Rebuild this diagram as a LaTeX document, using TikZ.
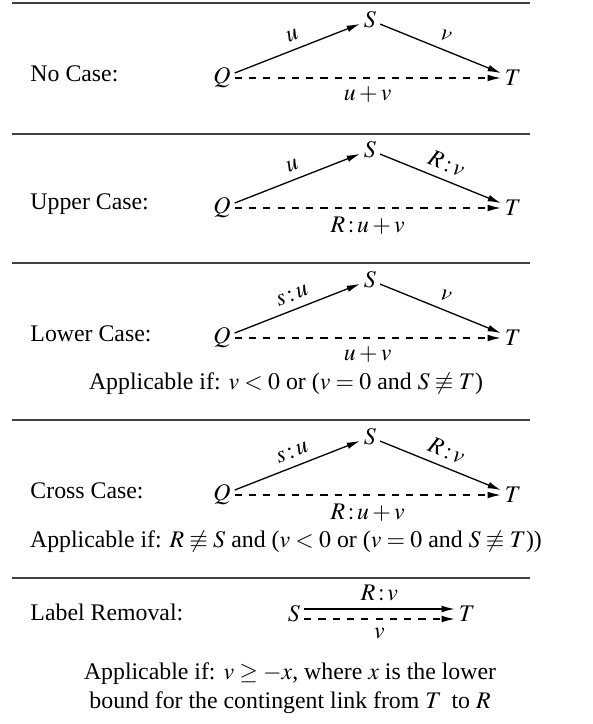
\documentclass[tikz,border=0pt]{standalone}
\usepackage{mathptmx}
\usepackage{fontspec}
\setmainfont{Liberation Serif}
\usetikzlibrary{arrows.meta}
\begin{document}
\begin{tikzpicture}[x=0.42pt,y=-0.42pt,
  vtx/.style={inner sep=1.5pt},
  arr/.style={-{Latex[length=5.5pt,width=2.8pt]}, line width=0.55pt},
  dsh/.style={arr, dashed},
  rul/.style={line width=0.75pt, black!75},
  lab/.style={inner sep=3.2pt},
  blab/.style={inner sep=3.5pt},
  case/.style={anchor=west, inner sep=0pt},
  cond/.style={inner sep=0pt}
]
\useasboundingbox (0,0) rectangle (592,724);

% rules
\draw[rul] (12,3) -- (530,3);
\draw[rul] (12,134) -- (530,134);
\draw[rul] (12,263) -- (530,263);
\draw[rul] (12,420) -- (530,420);
\draw[rul] (12,578) -- (530,578);

% No Case
\node[case] (c1) at (30,74) {No Case:};
\node[vtx] (Q1) at (222,78) {$Q$};
\node[vtx] (S1) at (370,20) {$S$};
\node[vtx] (T1) at (513,78) {$T$};
\draw[arr] (Q1) -- node[lab,above,sloped] {$u$} (S1);
\draw[arr] (S1) -- node[lab,above,sloped] {$v$} (T1);
\draw[dsh] (Q1) -- node[blab,below] {$u+v$} (T1);

% Upper Case
\node[case] (c2) at (30,204) {Upper Case:};
\node[vtx] (Q2) at (222,208) {$Q$};
\node[vtx] (S2) at (370,150) {$S$};
\node[vtx] (T2) at (513,208) {$T$};
\draw[arr] (Q2) -- node[lab,above,sloped] {$u$} (S2);
\draw[arr] (S2) -- node[lab,above,sloped] {$R\mkern2mu{:}\mkern2mu v$} (T2);
\draw[dsh] (Q2) -- node[blab,below] {$R\mkern2mu{:}\mkern2mu u+v$} (T2);

% Lower Case
\node[case] (c3) at (30,334) {Lower Case:};
\node[vtx] (Q3) at (222,338) {$Q$};
\node[vtx] (S3) at (370,280) {$S$};
\node[vtx] (T3) at (513,338) {$T$};
\draw[arr] (Q3) -- node[lab,above,sloped] {$s\mkern2mu{:}\mkern2mu u$} (S3);
\draw[arr] (S3) -- node[lab,above,sloped] {$v$} (T3);
\draw[dsh] (Q3) -- node[blab,below] {$u+v$} (T3);
\node[cond] (a3) at (286,384) {Applicable if: $v<0$ or ($v=0$ and $S\not\equiv T$)};

% Cross Case
\node[case] (c4) at (30,491) {Cross Case:};
\node[vtx] (Q4) at (222,495) {$Q$};
\node[vtx] (S4) at (370,437) {$S$};
\node[vtx] (T4) at (513,495) {$T$};
\draw[arr] (Q4) -- node[lab,above,sloped] {$s\mkern2mu{:}\mkern2mu u$} (S4);
\draw[arr] (S4) -- node[lab,above,sloped] {$R\mkern2mu{:}\mkern2mu v$} (T4);
\draw[dsh] (Q4) -- node[blab,below] {$R\mkern2mu{:}\mkern2mu u+v$} (T4);
\node[cond] (a4) at (286,542) {Applicable if: $R\not\equiv S$ and ($v<0$ or ($v=0$ and $S\not\equiv T$))};

% Label Removal
\node[case] (c5) at (30,612) {Label Removal:};
\node[vtx] (S5) at (294,614) {$S$};
\node[vtx] (T5) at (467,614) {$T$};
\draw[arr] ([yshift=2.1pt]S5.east) -- node[lab,above] {$R\mkern2mu{:}\mkern2mu v$} ([yshift=2.1pt]T5.west);
\draw[dsh] ([yshift=-2.1pt]S5.east) -- node[blab,below] {$v$} ([yshift=-2.1pt]T5.west);
\node[cond, align=center] (a5) at (290,688) {Applicable if: $v\geq -x$, where $x$ is the lower\\bound for the contingent link from $T$\, to $R$};
\end{tikzpicture}
\end{document}
